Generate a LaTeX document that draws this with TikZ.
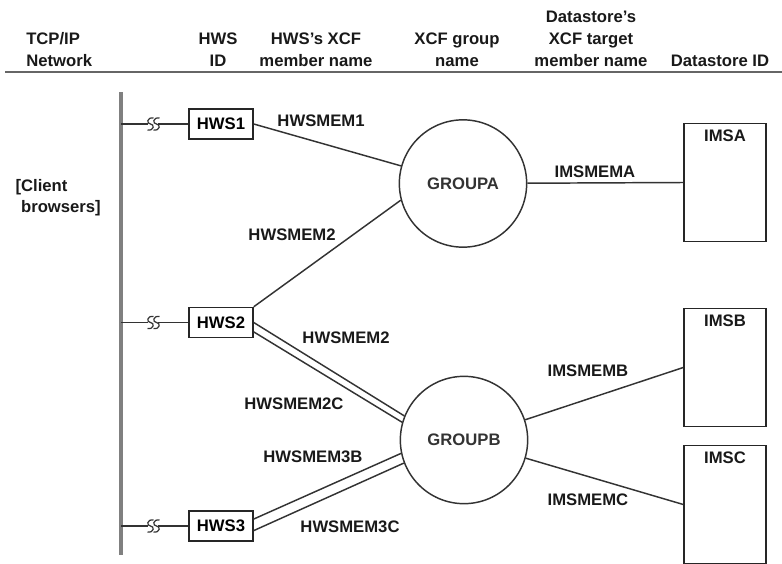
\documentclass[tikz,border=0pt]{standalone}
\usepackage{fontspec}
\setmainfont{Liberation Sans}
\usetikzlibrary{positioning}
\tikzset{hws/.style={draw=black!85,line width=1.1pt,minimum width=48pt,minimum height=22.5pt,inner sep=0pt,font=\fontsize{12.5}{15}\selectfont\bfseries}}
\tikzset{grp/.style={circle,draw=black!80,line width=1.1pt,minimum size=95.5pt,inner sep=0pt,font=\fontsize{12.5}{15}\selectfont\bfseries,text=black!80}}
\tikzset{ims/.style={draw=black!85,line width=1.1pt,minimum width=61.5pt,minimum height=88.5pt,inner sep=0pt}}
\tikzset{tag/.style={font=\fontsize{12.5}{15}\selectfont\bfseries,text=black!90,inner sep=1pt}}
\tikzset{head/.style={font=\fontsize{12.5}{16.5}\selectfont\bfseries,text=black!90,align=center,inner sep=0pt}}
\tikzset{link/.style={draw=black!80,line width=1.1pt}}
\tikzset{bus/.style={draw=black!50,line width=2.3pt}}
\tikzset{headrule/.style={fill=black!60,draw=none}}

\begin{document}
\begin{tikzpicture}[x=0.75pt,y=-0.75pt,node distance=0.2cm]
\useasboundingbox (0,0) rectangle (782,564);

\node[head,align=left,anchor=west] (hnet) at (26,50) {TCP/IP\\Network};
\node[head] (hid) at (218,50) {HWS\\ID};
\node[head] (hmem) at (316,50) {HWS's XCF\\member name};
\node[head] (hgrp) at (457,50) {XCF group\\name};
\node[head] (hdsm) at (591,39) {Datastore's\\XCF target\\member name};
\node[head] (hdsid) at (720,61) {Datastore ID};
\fill[headrule] (5,70.5) rectangle (782,73);

\coordinate (bustop) at (121,92);
\coordinate (busbot) at (121,555);
\draw[bus] (bustop) -- (busbot);
\node[tag,align=left,anchor=west,font=\fontsize{12.5}{15.75}\selectfont\bfseries] (client) at (14,197.5) {[Client\\\hphantom{[}browsers]};

\foreach \i/\y in {1/124,2/322.5,3/526}
  {
 \node[hws] (hws\i) at (221,\y) {HWS\i};
 \coordinate (tap\i) at (121,\y);
 \draw[link] (tap\i) -- ++(27,0);
 \draw[link] (hws\i.west) -- ++(-30,0);
 \foreach \s in {150.5,156.5}
   \draw[link,line width=0.9pt,shift={(\s,\y)}] (3,-6) .. controls (-4,-7) and (-4,0) .. (0,0) .. controls (4,0) and (4,7) .. (-3,6);
 }

\node[grp] (groupA) at (463,183.5) {GROUPA};
\node[grp] (groupB) at (464,440) {GROUPB};

\foreach \n/\y in {A/182.5,B/367.5,C/504.5}
  {
 \node[ims] (ims\n) at (725,\y) {};
 \node[tag,below=4pt of ims\n.north] (lbl\n) {IMS\n};
 }

\draw[link] (hws1.east) -- (groupA);
\draw[link] (hws2.north east) -- (groupA.195);
\draw[link] (hws2.east) -- (groupB.158);
\draw[link] (hws2.-16) -- (groupB.164);
\draw[link] (hws3.12) -- (groupB.192);
\draw[link] (hws3.-8) -- (groupB.201);
\draw[link] (groupA) -- (imsA.west);
\draw[link] (groupB) -- (imsB.west);
\draw[link] (groupB) -- (imsC.west);

\node[tag] (m1) at (321,121) {HWSMEM1};
\node[tag] (m2a) at (292,235) {HWSMEM2};
\node[tag] (m2b) at (346,338) {HWSMEM2};
\node[tag] (m2c) at (294,404) {HWSMEM2C};
\node[tag] (m3b) at (313,457) {HWSMEM3B};
\node[tag] (m3c) at (350,527) {HWSMEM3C};
\node[tag] (ma) at (595,172) {IMSMEMA};
\node[tag] (mb) at (588,371) {IMSMEMB};
\node[tag] (mc) at (588,500) {IMSMEMC};

\end{tikzpicture}
\end{document}
